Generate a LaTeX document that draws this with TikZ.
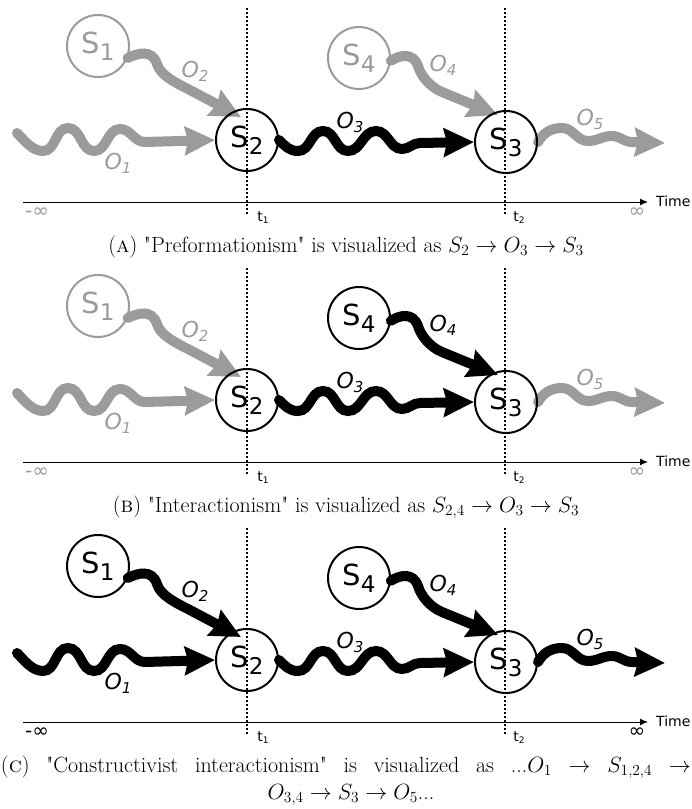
\documentclass[tikz,border=0pt]{standalone}
\usepackage{fix-cm}
\usepackage{fontspec}
\usetikzlibrary{arrows.meta,backgrounds}
\newfontfamily\dejavu{DejaVu Sans}
\definecolor{lg}{RGB}{155,155,155}
\newcommand\slab[1]{S\raisebox{-7pt}{\fontsize{23}{23}\selectfont #1}}
\newcommand\olab[1]{O\raisebox{-4pt}{\fontsize{15}{15}\selectfont #1}}
\newcommand\qq{\textquotedbl}
\tikzset{
  sbox/.style={circle, draw, line width=2pt, minimum size=62pt, inner sep=0pt,
    font=\dejavu\fontsize{29}{29}\selectfont},
  wavearrow/.style={line width=10pt, line cap=round, -{Stealth[length=30pt,width=28pt,inset=3pt]}},
  olabel/.style={font=\dejavu\itshape\fontsize{22}{22}\selectfont, inner sep=0pt},
  timeaxis/.style={line width=1pt, -{Latex[length=8pt,width=7pt]}},
  timelab/.style={font=\dejavu\fontsize{14}{14}\selectfont, inner sep=0pt, anchor=west},
  inflab/.style={font=\dejavu\fontsize{20}{20}\selectfont, inner sep=0pt},
  tlab/.style={font=\dejavu\fontsize{14}{14}\selectfont, inner sep=0pt},
  dotline/.style={line width=1.5pt, dash pattern=on 1.5pt off 2.5pt},
  captext/.style={font=\fontsize{22}{26}\selectfont, inner sep=0pt}
}
\newcommand\drawpanel[4]{%
\begin{scope}[shift={(0,#2)}]
  \node[sbox, draw=#3, text=#3] (#1s1) at (98,46) {\slab{1}};
  \node[sbox] (#1s2) at (247,140) {\slab{2}};
  \node[sbox] (#1s3) at (506,142) {\slab{3}};
  \node[sbox, draw=#4, text=#4] (#1s4) at (359,58) {\slab{4}};
  \coordinate (#1o1s) at (17,133);
  \coordinate (#1o5e) at (665,143);
  \begin{pgfonlayer}{background}
    \draw[wavearrow, #3] (#1o1s) .. controls (24,140) and (32,151) .. (43,151)
      to[out=0,in=180] (68,128) to[out=0,in=180] (94,151)
      to[out=0,in=180] (120,129) to[out=0,in=180] (145,142) -- (#1s2.west);
    \draw[wavearrow, #3] (#1s1.-22) .. controls (138,53) and (152,49) .. (157,64)
      .. controls (160,75) and (176,83) .. (188,89)
      -- ([xshift=-6pt,yshift=23pt]#1s2.center);
    \draw[wavearrow] (#1s2.east) to[out=-45,in=180] (298,151)
      to[out=0,in=180] (323,131) to[out=0,in=180] (348,151)
      to[out=0,in=180] (376,131) to[out=0,in=180] (402,149)
      to[out=0,in=180] (420,143) -- (#1s3.west);
    \draw[wavearrow, #4] (#1s4.-5) .. controls (400,55) and (413,52) .. (418,66)
      .. controls (421,76) and (430,87) .. (442,92)
      -- ([xshift=-8pt,yshift=27pt]#1s3.center);
    \draw[wavearrow, #3] (#1s3.east) to[out=60,in=180] (562,128)
      to[out=0,in=180] (588,141) to[out=0,in=180] (612,136)
      to[out=0,in=180] (632,142) -- (#1o5e);
  \end{pgfonlayer}
  \node[olabel, text=#3] (#1l1) at (118,163) {\olab{1}};
  \node[olabel, text=#3] (#1l2) at (195,71) {\olab{2}};
  \node[olabel] (#1l3) at (350,122) {\olab{3}};
  \node[olabel, text=#4] (#1l4) at (443,65) {\olab{4}};
  \node[olabel, text=#3] (#1l5) at (590,119) {\olab{5}};
  \coordinate (#1ax0) at (23,202);
  \coordinate (#1ax1) at (648,202);
  \draw[timeaxis] (#1ax0) -- (#1ax1);
  \node[timelab] (#1time) at (656,201) {Time};
  \node[inflab, text=#3] (#1minf) at (37,213) {-∞};
  \node[inflab, text=#3] (#1pinf) at (637,213) {∞};
  \node[tlab] (#1t1) at (263,218) {t\raisebox{-2pt}{\fontsize{9}{9}\selectfont 1}};
  \node[tlab] (#1t2) at (519,218) {t\raisebox{-2pt}{\fontsize{9}{9}\selectfont 2}};
  \coordinate (#1d1a) at (247,8);
  \coordinate (#1d1b) at (247,216);
  \coordinate (#1d2a) at (505,8);
  \coordinate (#1d2b) at (505,216);
  \draw[dotline] (#1d1a) -- (#1d1b);
  \draw[dotline] (#1d2a) -- (#1d2b);
\end{scope}}
\begin{document}
\begin{tikzpicture}[x=1pt,y=-1pt]
\path[use as bounding box] (0,0) rectangle (692,809);
\begin{pgfonlayer}{background}\fill[white] (0,0) rectangle (692,809);\end{pgfonlayer}
\drawpanel{a}{0}{lg}{lg}
\drawpanel{b}{260}{lg}{black}
\drawpanel{c}{520}{black}{black}
\node[captext] (capA) at (346,247) {(\textsc{a}) \qq Preformationism\qq{} is visualized as $S_2 \rightarrow O_3 \rightarrow S_3$};
\node[captext] (capB) at (346,507) {(\textsc{b}) \qq Interactionism\qq{} is visualized as $S_{2,4} \rightarrow O_3 \rightarrow S_3$};
\node[captext] (capC1) at (346,767) {\makebox[690pt][s]{(\textsc{c}) \qq Constructivist interactionism\qq{} is visualized as ...$O_1$ $\rightarrow$ $S_{1,2,4}$ $\rightarrow$}};
\node[captext] (capC2) at (351,795) {$O_{3,4} \rightarrow S_3 \rightarrow O_5$...};
\end{tikzpicture}
\end{document}
